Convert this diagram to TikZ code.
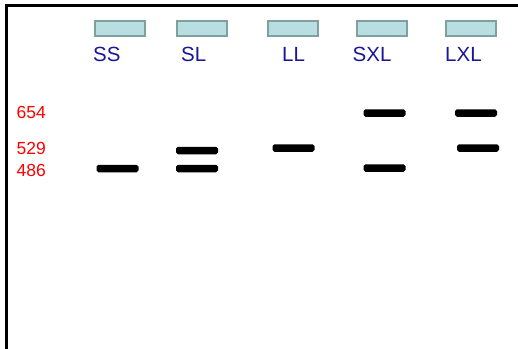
\documentclass[tikz,border=0pt]{standalone}
\usepackage{fontspec}
\setmainfont{Liberation Sans}
\begin{document}
\begin{tikzpicture}[x=1pt,y=-1pt,
  well/.style={draw=wellrim,fill=wellfill,line width=2pt,minimum width=50pt,minimum height=15pt,inner sep=0pt},
  lanelabel/.style={anchor=base west,inner sep=0pt,text=laneblue,font=\fontsize{20.5}{24}\selectfont},
  sizelabel/.style={anchor=base west,inner sep=0pt,text=red,font=\fontsize{17.5}{20}\selectfont},
  band/.style={fill=black,rounded corners=1.8pt,minimum width=42pt,minimum height=7.5pt,inner sep=0pt}]
\definecolor{wellfill}{RGB}{184,222,226}
\definecolor{wellrim}{RGB}{128,160,160}
\definecolor{laneblue}{RGB}{24,24,150}
\useasboundingbox (0,0) rectangle (518,348);
% gel frame: top and left edges
\draw[line width=2.8pt,line cap=rect] (6.5,348) -- (6.5,5.5) -- (518,5.5);
% loading wells
\node[well] (w1) at (119.5,28.5) {};
\node[well] (w2) at (201.5,28.5) {};
\node[well] (w3) at (292.5,28.5) {};
\node[well] (w4) at (382,28.5) {};
\node[well] (w5) at (471,28.5) {};
% lane names
\node[lanelabel] (l1) at (93,61.5) {SS};
\node[lanelabel] (l2) at (181,61.5) {SL};
\node[lanelabel] (l3) at (282,61.5) {LL};
\node[lanelabel] (l4) at (352.5,61.5) {SXL};
\node[lanelabel] (l5) at (445,61.5) {LXL};
% fragment sizes
\node[sizelabel] (s1) at (16.5,118.5) {654};
\node[sizelabel] (s2) at (16.5,154) {529};
\node[sizelabel] (s3) at (16.5,176) {486};
% bands
\node[band] (b1) at (117.5,168.5) {};
\node[band] (b2a) at (197,150.5) {};
\node[band] (b2b) at (197,168.5) {};
\node[band] (b3) at (293.5,148) {};
\node[band] (b4a) at (384.5,113) {};
\node[band] (b4b) at (384.5,168) {};
\node[band] (b5a) at (476,113) {};
\node[band] (b5b) at (478,148) {};
\end{tikzpicture}
\end{document}
